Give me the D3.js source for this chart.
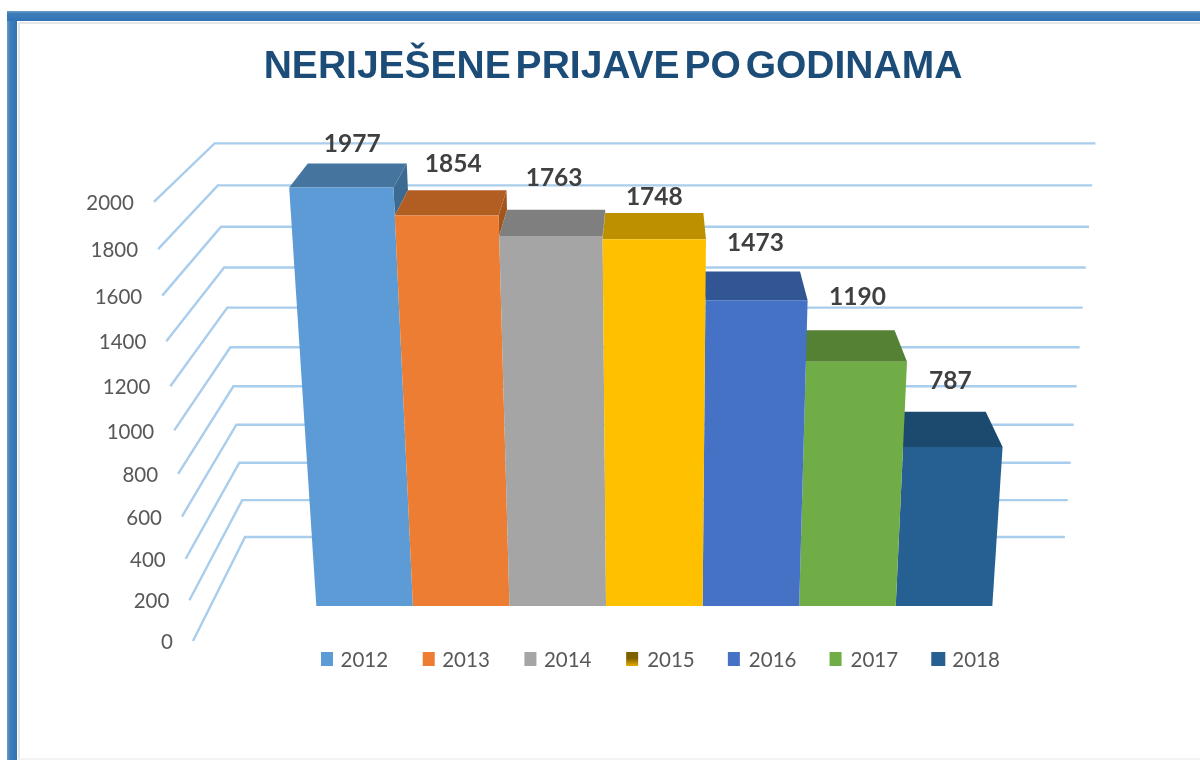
<!DOCTYPE html>
<html>
<head>
<meta charset="utf-8">
<script src="https://cdn.jsdelivr.net/npm/d3@7"></script>
<style>
  html, body { margin: 0; padding: 0; background: #fff; }
  svg { display: block; }
  text { font-family: Lato, "Open Sans", sans-serif; }
</style>
</head>
<body>
<svg width="1200" height="760"></svg>
<script>
var chartTitle = 'NERIJEŠENE PRIJAVE PO GODINAMA';
var years = ['2012', '2013', '2014', '2015', '2016', '2017', '2018'];
var counts = [1977, 1854, 1763, 1748, 1473, 1190, 787];
var yTicks = [0, 200, 400, 600, 800, 1000, 1200, 1400, 1600, 1800, 2000];
var frontColors = ['#5b9bd5', '#ed7d31', '#a5a5a5', '#ffc000', '#4472c4', '#70ad47', '#255e91'];
var topColors = ['#44759f', '#b25d22', '#7f7f7f', '#bd9000', '#335593', '#558135', '#1c4a6e'];

var svg = d3.select('svg');
var defs = svg.append('defs');

function gradient(id, x2, y2, stops) {
  var g = defs.append('linearGradient').attr('id', id).attr('x1', 0).attr('y1', 0).attr('x2', x2).attr('y2', y2);
  stops.forEach(function(s) {
    g.append('stop').attr('offset', s[0]).attr('stop-color', s[1]);
  });
}
gradient('swatch2015', 0, 1, [[0.45, '#7f6000'], [1, '#e6ad00']]);
gradient('frameTop', 0, 1, [[0, '#6a9ccb'], [0.25, '#3f7db9'], [1, '#2f74b5']]);
gradient('frameLeft', 1, 0, [[0, '#6a9ccb'], [0.3, '#3f7db9'], [1, '#2f74b5']]);

var blur = defs.append('filter').attr('id', 'soft')
               .attr('x', '-5%').attr('y', '-5%').attr('width', '110%').attr('height', '110%');
blur.append('feGaussianBlur').attr('stdDeviation', 0.5);

// frame
svg.append('rect').attr('x', 7).attr('y', 11).attr('width', 10).attr('height', 749).style('fill', 'url(#frameLeft)');
svg.append('rect').attr('x', 7).attr('y', 11).attr('width', 1193).attr('height', 10).style('fill', 'url(#frameTop)');
svg.append('path')
   .attr('d', 'M19,760V23H1200')
   .style('fill', 'none')
   .style('stroke', '#e6e6e6')
   .style('stroke-width', 2);
svg.append('path')
   .attr('d', 'M18,759H1200')
   .style('fill', 'none')
   .style('stroke', '#efefef')
   .style('stroke-width', 1.5);

var chart = svg.append('g').style('filter', 'url(#soft)');

chart.append('text')
   .attr('x', 613)
   .attr('y', 78)
   .attr('text-anchor', 'middle')
   .style('font-family', '"Liberation Sans", Arial, sans-serif')
   .style('font-size', '39px')
   .style('font-weight', 700)
   .style('word-spacing', '-6px')
   .style('fill', '#1f4e79')
   .text(chartTitle);

// the 3d box: value and depth go through a projection, x through a band scale
var vScale = d3.scaleLinear().domain([0, 2000]).range([0, 1]);
var xWall = d3.scaleLinear().domain([0, 1]).range([-462, 462]);
var xBars = d3.scaleBand().domain(years).range([-352, 350.6]);
var centerX = 655;
var barFront = 0.31, barBack = 0.715;

function project(x, value, z) {
  var v = vScale(value);
  var w = 1 - 0.078 * v + 0.127 * z;
  return [centerX + x / w, (641 - 454.8 * v - 35.8 * z) / w];
}
var line = d3.line();

// walls
chart.append('g').selectAll('path')
   .data(yTicks)
   .enter().append('path')
   .attr('d', function(d) {
     return line([project(xWall(0), d, 0), project(xWall(0), d, 1), project(xWall(1), d, 1)]);
   })
   .style('fill', 'none')
   .style('stroke', '#a9cdec')
   .style('stroke-width', 2.4);

chart.append('g').selectAll('text')
   .data(yTicks)
   .enter().append('text')
   .attr('x', function(d) { return project(xWall(0), d, 0)[0] - 20; })
   .attr('y', function(d) { return project(xWall(0), d, 0)[1] + 3; })
   .attr('text-anchor', 'end')
   .attr('dominant-baseline', 'middle')
   .style('font-size', '20.5px')
   .style('fill', '#595959')
   .text(function(d) { return d; });

// bars, outermost first so the middle one ends up on top
var barOrder = [0, 1, 2, 6, 5, 4, 3];
var bars = chart.append('g').selectAll('g')
   .data(barOrder)
   .enter().append('g');

// only the first three bars show a side, and only above the next bar
bars.filter(function(i) { return i < 3; }).append('path')
   .attr('d', function(i) {
     var edge = xBars(years[i]) + xBars.bandwidth();
     return line([project(edge, counts[i + 1], barFront), project(edge, counts[i], barFront),
                  project(edge, counts[i], barBack), project(edge, counts[i + 1], barBack)]) + 'Z';
   })
   .style('fill', function(i) { return d3.color(topColors[i]).darker(0.25); });

bars.append('path')
   .attr('d', function(i) {
     var x0 = xBars(years[i]), x1 = x0 + xBars.bandwidth();
     return line([project(x0, counts[i], barFront), project(x1, counts[i], barFront),
                  project(x1, counts[i], barBack), project(x0, counts[i], barBack)]) + 'Z';
   })
   .style('fill', function(i) { return topColors[i]; });

bars.append('path')
   .attr('d', function(i) {
     var x0 = xBars(years[i]), x1 = x0 + xBars.bandwidth();
     return line([project(x0, 0, barFront), project(x1, 0, barFront),
                  project(x1, counts[i], barFront), project(x0, counts[i], barFront)]) + 'Z';
   })
   .style('fill', function(i) { return frontColors[i]; });

// data labels were hand placed in the original, so each one gets its own nudge
var labelNudge = [[-5, -18], [-4, -25], [-2, -30], [0, -14], [4, -27], [11, -31], [12, -29]];
chart.append('g').selectAll('text')
   .data(counts)
   .enter().append('text')
   .attr('x', function(d, i) {
     return project(xBars(years[i]) + xBars.bandwidth() / 2, d, barBack)[0] + labelNudge[i][0];
   })
   .attr('y', function(d, i) {
     return project(0, d, barBack)[1] + labelNudge[i][1];
   })
   .attr('text-anchor', 'middle')
   .attr('dominant-baseline', 'middle')
   .style('font-size', '24.5px')
   .style('font-weight', 700)
   .style('fill', '#404040')
   .text(function(d) { return d; });

// legend
var legendX = d3.scaleBand().domain(years).range([321, 1033]);
var legend = chart.append('g').selectAll('g')
   .data(years)
   .enter().append('g')
   .attr('transform', function(d) { return 'translate(' + legendX(d) + ',652)'; });
legend.append('rect')
   .attr('width', function(d, i) { return i === 6 ? 14 : 12; })
   .attr('height', 14)
   .style('fill', function(d, i) { return i === 3 ? 'url(#swatch2015)' : frontColors[i]; });
legend.append('text')
   .attr('x', function(d, i) { return i < 3 ? 19.5 : 21; })
   .attr('y', 10)
   .attr('dominant-baseline', 'middle')
   .style('font-size', '20.5px')
   .style('fill', '#595959')
   .text(function(d) { return d; });
</script>
</body>
</html>
